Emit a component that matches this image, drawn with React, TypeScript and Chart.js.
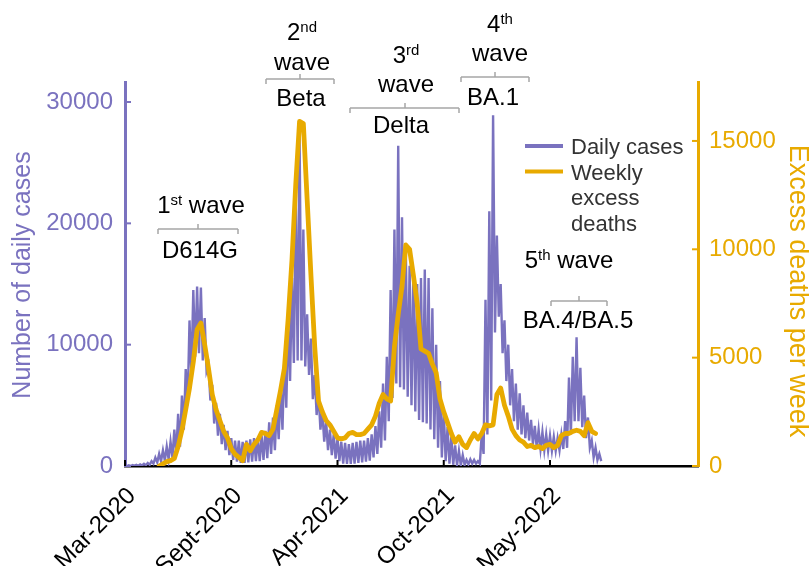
import React, { useEffect, useRef } from "react";
import { Chart, registerables } from "chart.js";

Chart.register(...registerables);

const FONT = "'Liberation Sans', Arial, Helvetica, sans-serif";
const PURPLE = "#7a72bf";
const GOLD = "#e8aa00";

// x axis is in weeks since 1 March 2020
const xTickWeeks = [0, 28, 56, 84, 112];
const xTickLabels = ["Mar-2020", "Sept-2020", "Apr-2021", "Oct-2021", "May-2022"];
const xMaxWeek = 151;

const casesTicks = [0, 10000, 20000, 30000];
const casesMax = 31650;
const deathsTicks = [0, 5000, 10000, 15000];
const deathsMax = 17720;

// Daily cases: weekly upper (weekday peaks) and lower (weekend troughs) values, week 0..125
const casesWeeklyHigh = [
  50, 60, 80, 100, 130, 180, 250, 400, 700, 1000,
  1300, 1600, 2000, 3000, 4300, 5800, 8000, 12000, 14500, 14800,
  14700, 12200, 8300, 6700, 5200, 4300, 3400, 2900, 2300, 2100,
  2100, 2000, 2100, 2200, 2300, 2300, 2500, 2900, 3600, 4000,
  5000, 6500, 9000, 12000, 15500, 22000, 27500, 19500, 12500, 10500,
  7500, 6000, 4500, 3700, 3000, 2600, 2300, 2000, 1900, 1800,
  1900, 2000, 2100, 2100, 2300, 2600, 3300, 4500, 6800, 9000,
  14500, 19500, 26400, 20500, 18000, 16500, 16000, 15000, 15500, 16200,
  15500, 13000, 10000, 7000, 4600, 3200, 2400, 1700, 1250, 900,
  500, 550, 500, 400, 2600, 13700, 21000, 28900, 19000, 15000,
  12000, 10000, 8000, 6800, 6000, 5000, 4400, 3800, 3300, 3000,
  2800, 2600, 2500, 2400, 2300, 2600, 3700, 7300, 9000, 10600,
  8100, 5800, 4000, 2100, 1500, 1000,
];
const casesWeeklyLow = [
  0, 0, 10, 20, 40, 60, 100, 200, 300, 400,
  450, 550, 700, 1000, 1600, 3000, 5000, 7500, 9000, 9300,
  8700, 7800, 5400, 3500, 2500, 1800, 1300, 900, 500, 350,
  250, 250, 300, 350, 400, 400, 500, 650, 1000, 1300,
  2200, 3000, 4800, 7000, 8500, 8700, 8700, 8200, 7500, 5500,
  4200, 3000, 2000, 1300, 900, 600, 400, 200, 170, 170,
  200, 250, 300, 350, 450, 700, 1000, 1500, 2100, 3700,
  5600, 6800, 6500, 6300, 5700, 5000, 4500, 3800, 3600, 3500,
  3000, 2200, 1500, 700, 400, 200, 100, 50, 50, 100,
  150, 200, 200, 200, 1000, 2600, 5400, 11000, 12300, 9300,
  7000, 5000, 3700, 3000, 2600, 2300, 2100, 1800, 1500, 1400,
  1300, 1250, 1250, 1250, 1300, 1400, 1500, 2600, 3700, 3700,
  3200, 2300, 1500, 700, 500, 400,
];

// Weekly excess deaths, starting at week 9
const deathsStartWeek = 9;
const deathsWeekly = [
  0, 100, 200, 250, 350, 900, 1650, 2600, 3600, 4800,
  6300, 6600, 5600, 4500, 3300, 2600, 2100, 1600, 1300, 800,
  550, 400, 250, 1000, 700, 1000, 1200, 1550, 1500, 1400,
  1700, 2600, 3500, 4500, 6800, 9500, 13000, 15900, 15800, 12300,
  8800, 5500, 3000, 2500, 2100, 1900, 1600, 1300, 1250, 1300,
  1500, 1550, 1450, 1450, 1500, 1700, 1900, 2300, 2900, 3300,
  3100, 3000, 5500, 7000, 8300, 10200, 10000, 8800, 7500, 5400,
  5300, 5200, 4700, 4300, 3100, 2500, 2000, 1500, 1100, 1350,
  1000, 850, 1200, 1500, 1250, 1500, 1900, 1850, 1900, 3300,
  3600, 2800, 2300, 1700, 1400, 1200, 1100, 900, 950, 850,
  900, 800, 950, 1000, 850, 950, 1400, 1500, 1500, 1600,
  1650, 1600, 1400, 2000, 1600, 1500,
];

const legendItems = [
  { color: PURPLE, lines: ["Daily cases"] },
  { color: GOLD, lines: ["Weekly", "excess", "deaths"] },
];

type Part = [string, boolean];
const waveLabels: { head: Part[][]; variant: string; cx: number; base: number[]; bx: [number, number, number, number]; vx: number; vBase: number }[] = [
  { head: [[["1", false], ["st", true], [" wave", false]]], variant: "D614G", cx: 201, base: [213], bx: [158, 238, 198, 229], vx: 200, vBase: 258 },
  { head: [[["2", false], ["nd", true]], [["wave", false]]], variant: "Beta", cx: 302, base: [40, 70], bx: [266, 334, 300, 79], vx: 301, vBase: 106 },
  { head: [[["3", false], ["rd", true]], [["wave", false]]], variant: "Delta", cx: 406, base: [63, 92], bx: [350, 459, 405, 108], vx: 401, vBase: 133 },
  { head: [[["4", false], ["th", true]], [["wave", false]]], variant: "BA.1", cx: 500, base: [32, 61], bx: [461, 529, 495, 77], vx: 493, vBase: 105 },
  { head: [[["5", false], ["th", true], [" wave", false]]], variant: "BA.4/BA.5", cx: 569, base: [268], bx: [551, 607, 579, 301], vx: 578, vBase: 328 },
];

function drawRich(ctx: CanvasRenderingContext2D, parts: Part[], cx: number, base: number) {
  const big = "24px " + FONT;
  const small = "15px " + FONT;
  const widths = parts.map(([t, sup]) => {
    ctx.font = sup ? small : big;
    return ctx.measureText(t).width;
  });
  const total = widths.reduce((a, b) => a + b, 0);
  let x = cx - total / 2;
  parts.forEach(([t, sup], i) => {
    ctx.font = sup ? small : big;
    ctx.fillText(t, x, sup ? base - 8 : base);
    x += widths[i];
  });
}

function seg(ctx: CanvasRenderingContext2D, x1: number, y1: number, x2: number, y2: number) {
  ctx.beginPath();
  ctx.moveTo(x1, y1);
  ctx.lineTo(x2, y2);
  ctx.stroke();
}

const overlayPlugin = {
  id: "overlay",
  afterDraw(chart: any) {
    const ctx: CanvasRenderingContext2D = chart.ctx;
    const { x, yCases, yDeaths } = chart.scales;
    const area = chart.chartArea;
    ctx.save();

    // inward tick marks
    ctx.lineWidth = 2;
    ctx.strokeStyle = PURPLE;
    casesTicks.forEach((v) => {
      const py = yCases.getPixelForValue(v);
      seg(ctx, area.left, py, area.left + 6, py);
    });
    ctx.strokeStyle = GOLD;
    deathsTicks.forEach((v) => {
      const py = yDeaths.getPixelForValue(v);
      seg(ctx, area.right - 6, py, area.right, py);
    });
    ctx.strokeStyle = "#000";
    xTickWeeks.forEach((v) => {
      const px = x.getPixelForValue(v);
      seg(ctx, px, area.bottom, px, area.bottom - 6);
    });

    // axis titles
    ctx.fillStyle = PURPLE;
    ctx.font = "25px " + FONT;
    ctx.textAlign = "center";
    ctx.textBaseline = "middle";
    ctx.save();
    ctx.translate(23, 275);
    ctx.rotate(-Math.PI / 2);
    ctx.fillText("Number of daily cases", 0, 0);
    ctx.restore();
    ctx.fillStyle = GOLD;
    ctx.font = "27px " + FONT;
    ctx.save();
    ctx.translate(797, 291);
    ctx.rotate(Math.PI / 2);
    ctx.fillText("Excess deaths per week", 0, 0);
    ctx.restore();

    // legend
    ctx.textAlign = "left";
    ctx.textBaseline = "alphabetic";
    ctx.font = "22px " + FONT;
    ctx.lineWidth = 4;
    let base = 154;
    legendItems.forEach((item) => {
      ctx.strokeStyle = item.color;
      seg(ctx, 525, base - 8, 563, base - 8);
      ctx.fillStyle = "#333";
      item.lines.forEach((ln) => {
        ctx.fillText(ln, 571, base);
        base += 25.5;
      });
    });

    // wave annotations
    ctx.fillStyle = "#000";
    waveLabels.forEach((w) => {
      w.head.forEach((parts, i) => drawRich(ctx, parts, w.cx, w.base[i]));
      ctx.strokeStyle = "#a6a6a6";
      ctx.lineWidth = 1.5;
      const [x1, x2, xc, y] = w.bx;
      seg(ctx, x1, y, x2, y);
      seg(ctx, x1, y, x1, y + 5);
      seg(ctx, x2, y, x2, y + 5);
      seg(ctx, xc, y, xc, y - 5);
      ctx.font = "24px " + FONT;
      ctx.textAlign = "center";
      ctx.fillText(w.variant, w.vx, w.vBase);
      ctx.textAlign = "left";
    });

    ctx.restore();
  },
};

export default function App() {
  const canvasRef = useRef<HTMLCanvasElement | null>(null);

  useEffect(() => {
    if (!canvasRef.current) return;
    const casesPts: { x: number; y: number }[] = [];
    casesWeeklyHigh.forEach((hi, i) => {
      casesPts.push({ x: i, y: hi });
      casesPts.push({ x: i + 0.5, y: casesWeeklyLow[i] });
    });
    const deathsPts = deathsWeekly.map((v, i) => ({ x: deathsStartWeek + i, y: v }));

    const chart = new Chart(canvasRef.current, {
      type: "line",
      data: {
        datasets: [
          {
            label: "Weekly excess deaths",
            data: deathsPts,
            yAxisID: "yDeaths",
            borderColor: GOLD,
            backgroundColor: GOLD,
            borderWidth: 4.8,
            pointRadius: 0,
            tension: 0,
            borderJoinStyle: "round",
            borderCapStyle: "round",
            order: 0,
          },
          {
            label: "Daily cases",
            data: casesPts,
            yAxisID: "yCases",
            borderColor: PURPLE,
            backgroundColor: PURPLE,
            borderWidth: 2.4,
            pointRadius: 0,
            tension: 0,
            order: 1,
          },
        ],
      },
      options: {
        responsive: false,
        animation: false,
        layout: { padding: { top: 82, left: 0, right: 0, bottom: 0 } },
        plugins: { legend: { display: false }, tooltip: { enabled: false } },
        scales: {
          x: {
            type: "linear",
            min: 0,
            max: xMaxWeek,
            grid: { display: false, drawTicks: false },
            border: { display: true, color: "#000", width: 2.5 },
            ticks: {
              autoSkip: false,
              minRotation: 45,
              maxRotation: 45,
              padding: 16,
              labelOffset: 7,
              color: "#000",
              font: { size: 24, family: FONT },
              callback: (v: any) => {
                const i = xTickWeeks.indexOf(Number(v));
                return i >= 0 ? xTickLabels[i] : "";
              },
            },
            afterBuildTicks: (s: any) => {
              s.ticks = xTickWeeks.map((v) => ({ value: v }));
            },
            afterFit: (s: any) => {
              s.height = 100;
            },
          },
          yCases: {
            type: "linear",
            position: "left",
            min: 0,
            max: casesMax,
            grid: { display: false, drawTicks: false },
            border: { display: true, color: PURPLE, width: 3 },
            ticks: {
              padding: 12,
              color: PURPLE,
              font: { size: 24, family: FONT },
              callback: (v: any) => String(v),
            },
            afterBuildTicks: (s: any) => {
              s.ticks = casesTicks.map((v) => ({ value: v }));
            },
            afterFit: (s: any) => {
              s.width = 125;
            },
          },
          yDeaths: {
            type: "linear",
            position: "right",
            min: 0,
            max: deathsMax,
            grid: { display: false, drawTicks: false },
            border: { display: true, color: GOLD, width: 3 },
            ticks: {
              padding: 11,
              color: GOLD,
              font: { size: 24, family: FONT },
              callback: (v: any) => String(v),
            },
            afterBuildTicks: (s: any) => {
              s.ticks = deathsTicks.map((v) => ({ value: v }));
            },
            afterFit: (s: any) => {
              s.width = 111;
            },
          },
        },
      },
      plugins: [overlayPlugin],
    } as any);

    return () => chart.destroy();
  }, []);

  return (
    <div style={{ position: "absolute", left: 0, top: 0, width: 809, height: 566, background: "#fff" }}>
      <canvas ref={canvasRef} width={809} height={566} style={{ display: "block", width: 809, height: 566 }} />
    </div>
  );
}
